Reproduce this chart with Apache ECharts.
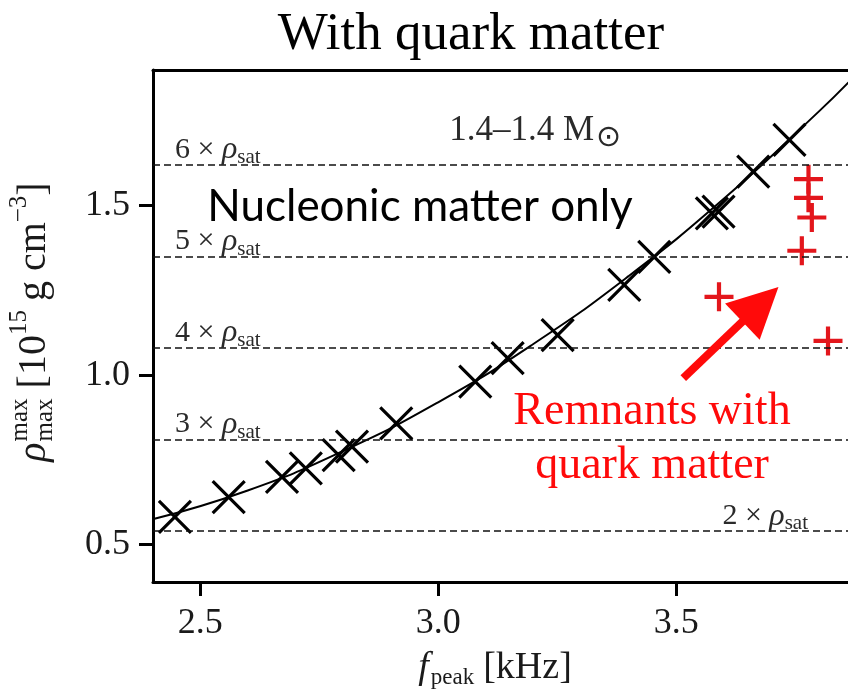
<!DOCTYPE html>
<html>
<head>
<meta charset="utf-8">
<script src="https://cdn.jsdelivr.net/npm/echarts@6/dist/echarts.min.js"></script>
<style>
  html, body { margin: 0; padding: 0; background: #fff; }
  #chart { width: 848px; height: 690px; }
</style>
</head>
<body>
<div id="chart"></div>
<script>
// Peak frequency vs. maximum density, 1.4-1.4 Msun mergers
const xTicks = [2.5, 3.0, 3.5];
const yTicks = [0.5, 1.0, 1.5];

// nucleonic-only remnants (crosses)
const nucleonicF   = [2.447, 2.560, 2.672, 2.722, 2.791, 2.819, 2.912, 3.078, 3.146, 3.251, 3.391, 3.454, 3.575, 3.589, 3.662, 3.738];
const nucleonicRho = [0.582, 0.640, 0.700, 0.725, 0.764, 0.789, 0.858, 0.981, 1.050, 1.118, 1.266, 1.349, 1.477, 1.482, 1.600, 1.694];

// remnants with quark matter (red plus signs)
const quarkF   = [3.778, 3.778, 3.785, 3.764, 3.590, 3.819];
const quarkRho = [1.578, 1.523, 1.465, 1.367, 1.231, 1.101];

// fit through the nucleonic models
const fitF   = [2.40, 2.60, 2.80, 3.00, 3.20, 3.40, 3.60, 3.80, 3.88];
const fitRho = [0.575, 0.660, 0.776, 0.920, 1.092, 1.292, 1.520, 1.778, 1.890];

// multiples of nuclear saturation density
const satMultiples = ['2', '3', '4', '5', '6'];
const satRho = [0.54, 0.81, 1.08, 1.35, 1.62];

// annotation arrow pointing at the quark-matter group
const arrowFrom = [3.515, 0.991];
const arrowTo   = [3.677, 1.209];

const SERIF = '"Liberation Serif", "DejaVu Serif", serif';
const SANS = 'Lato, "Open Sans", sans-serif';
const INK = '#1a1a1a';
const RED = '#ff0a0a';
const PLUS_RED = '#e3161c';

const chart = echarts.init(document.getElementById('chart'), null, { renderer: 'canvas' });

// Builds a horizontal run of text pieces (with sub/superscripts) as a graphic group
function mathText(pieces, cx, cy, rotation, color) {
  const ctx = document.createElement('canvas').getContext('2d');
  let x = 0;
  let stackX = 0;
  let stackW = 0;
  const children = [];
  pieces.forEach(p => {
    const font = (p.italic ? 'italic ' : '') + p.size + 'px ' + SERIF;
    ctx.font = font;
    const w = ctx.measureText(p.t).width;
    let px = x;
    if (p.under) {
      px = stackX;
      x = stackX + Math.max(stackW, w) + (p.gap || 0);
    } else {
      stackX = x;
      stackW = w;
      x += w + (p.gap || 0);
    }
    children.push({
      type: 'text', x: px, y: p.dy || 0,
      style: { text: p.t, font: font, fill: color, textAlign: 'left', textVerticalAlign: 'middle', verticalAlign: 'middle' }
    });
  });
  children.forEach(c => { c.x -= x / 2; });
  return { type: 'group', x: cx, y: cy, rotation: rotation, children: children, silent: true };
}

const crossPath = 'path://M0 0L10 10M10 0L0 10';
const plusPath = 'path://M5 0L5 10M0 5L10 5';

const satLines = satMultiples.map((m, i) => {
  const first = i === 0;
  return {
    yAxis: satRho[i],
    label: {
      show: true,
      position: first ? 'insideEndTop' : 'insideStartTop',
      distance: first ? [40, -3] : [22, -3],
      formatter: '{n|' + m + ' × }{r|ρ}{s|sat}'
    }
  };
});

const option = {
  animation: false,
  backgroundColor: '#fff',
  title: {
    text: 'With quark matter',
    left: 466, top: 4, textAlign: 'center',
    textStyle: { fontFamily: SERIF, fontSize: 53, fontWeight: 'normal', color: '#000' }
  },
  grid: { left: 153, right: 0, top: 70, bottom: 108, containLabel: false },
  xAxis: [{
    type: 'value', min: 2.401, max: 3.861,
    axisLine: { show: true, onZero: false, lineStyle: { color: '#000', width: 3 } },
    axisTick: { show: true, customValues: xTicks, length: 14, lineStyle: { color: '#000', width: 3 } },
    axisLabel: { customValues: xTicks, formatter: v => v.toFixed(1), margin: 24,
      fontFamily: SERIF, fontSize: 36, color: INK },
    splitLine: { show: false }
  }, {
    type: 'value', position: 'top', min: 2.401, max: 3.861,
    axisLine: { show: true, onZero: false, lineStyle: { color: '#000', width: 3 } },
    axisTick: { show: false }, axisLabel: { show: false }, splitLine: { show: false }
  }],
  yAxis: {
    type: 'value', min: 0.39, max: 1.9,
    axisLine: { show: true, onZero: false, lineStyle: { color: '#000', width: 3 } },
    axisTick: { show: true, customValues: yTicks, length: 14, lineStyle: { color: '#000', width: 3 } },
    axisLabel: { customValues: yTicks, formatter: v => v.toFixed(1), margin: 23,
      fontFamily: SERIF, fontSize: 36, color: INK },
    splitLine: { show: false }
  },
  series: [{
    name: 'fit', type: 'line', smooth: true, showSymbol: false, z: 3,
    data: fitF.map((f, i) => [f, fitRho[i]]),
    lineStyle: { color: '#000', width: 2 },
    markLine: {
      silent: true, symbol: ['none', 'none'], animation: false,
      lineStyle: { type: [7, 4], color: '#111', width: 1.6 },
      label: {
        rich: {
          n: { fontFamily: SERIF, fontSize: 30, color: '#2a2a2a', lineHeight: 36 },
          r: { fontFamily: SERIF, fontSize: 32, fontStyle: 'italic', color: '#2a2a2a', lineHeight: 36 },
          s: { fontFamily: SERIF, fontSize: 21, color: '#2a2a2a', lineHeight: 21, verticalAlign: 'bottom' }
        }
      },
      data: satLines
    }
  }, {
    name: 'nucleonic', type: 'scatter', z: 4,
    symbol: crossPath, symbolSize: 32,
    itemStyle: { color: 'rgba(0,0,0,0)', borderColor: '#000', borderWidth: 3.2, opacity: 1 },
    data: nucleonicF.map((f, i) => [f, nucleonicRho[i]])
  }, {
    name: 'quark', type: 'scatter', z: 4,
    symbol: plusPath, symbolSize: 29,
    itemStyle: { color: 'rgba(0,0,0,0)', borderColor: PLUS_RED, borderWidth: 4.2, opacity: 1 },
    data: quarkF.map((f, i) => [f, quarkRho[i]])
  }, {
    name: 'arrow', type: 'lines', coordinateSystem: 'cartesian2d', z: 5,
    symbol: ['none', 'triangle'], symbolSize: [40, 50],
    lineStyle: { color: RED, width: 8, opacity: 1 },
    data: [{ coords: [arrowFrom, arrowTo] }]
  }],
  graphic: [
    {
      type: 'text', x: 594, y: 131, silent: true,
      style: { text: '1.4–1.4 M', font: '35px ' + SERIF, fill: '#2a2a2a', textAlign: 'right', textVerticalAlign: 'middle', verticalAlign: 'middle' }
    },
    {
      type: 'text', x: 596, y: 138, silent: true,
      style: { text: '⊙', font: '30px "DejaVu Sans", sans-serif', fill: '#2a2a2a', textAlign: 'left', textVerticalAlign: 'middle', verticalAlign: 'middle' }
    },
    {
      type: 'text', x: 420, y: 207, silent: true,
      style: { text: 'Nucleonic matter only', font: '44px ' + SANS, fill: '#000', textAlign: 'center', textVerticalAlign: 'middle', verticalAlign: 'middle' }
    },
    {
      type: 'text', x: 652, y: 412, silent: true,
      style: { text: 'Remnants with', font: '46px ' + SERIF, fill: RED, textAlign: 'center', textVerticalAlign: 'middle', verticalAlign: 'middle' }
    },
    {
      type: 'text', x: 652, y: 466, silent: true,
      style: { text: 'quark matter', font: '46px ' + SERIF, fill: RED, textAlign: 'center', textVerticalAlign: 'middle', verticalAlign: 'middle' }
    },
    mathText([
      { t: 'f', size: 38, italic: true, gap: 2 },
      { t: 'peak', size: 23, dy: 10, gap: 9 },
      { t: '[kHz]', size: 38 }
    ], 495, 668, 0, INK),
    mathText([
      { t: 'ρ', size: 40, italic: true, gap: 1 },
      { t: 'max', size: 25, dy: -14 },
      { t: 'max', size: 25, dy: 11, under: true, gap: 10 },
      { t: '[10', size: 40 },
      { t: '15', size: 25, dy: -15, gap: 9 },
      { t: 'g cm', size: 40 },
      { t: '−3', size: 25, dy: -15 },
      { t: ']', size: 40 }
    ], 34, 322, Math.PI / 2, INK)
  ]
};

chart.setOption(option);
</script>
</body>
</html>
